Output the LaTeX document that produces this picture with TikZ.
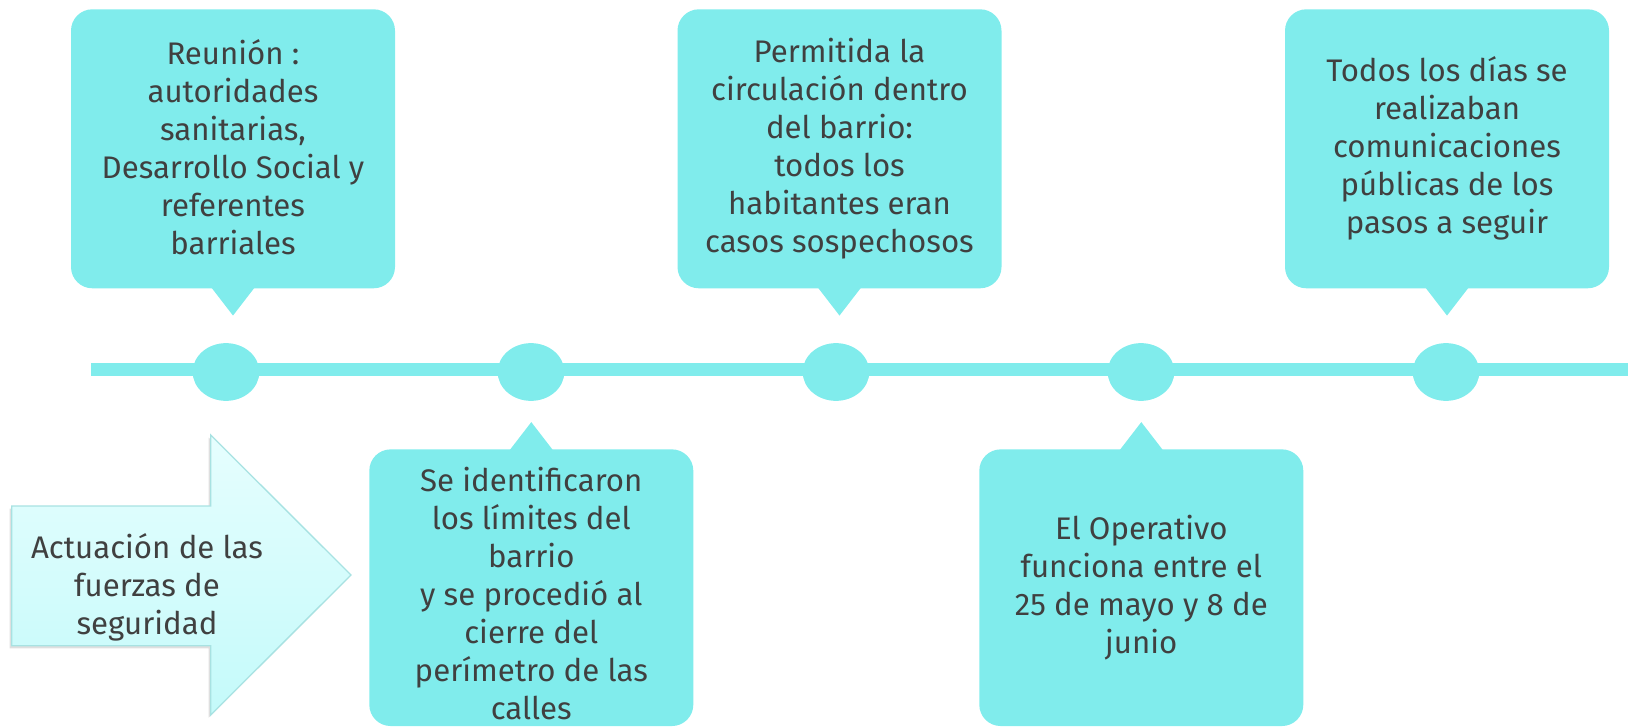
\documentclass[tikz,border=0pt]{standalone}
\usepackage{fontspec}
\setmainfont{Fira Sans}
\usetikzlibrary{shadows,shapes.geometric}
\definecolor{tl}{HTML}{80ECEC}
\definecolor{txtc}{HTML}{404040}
\definecolor{arrtop}{HTML}{E6FEFE}
\definecolor{arrbot}{HTML}{C4FAFA}
\definecolor{arrline}{HTML}{A8E2E2}
\begin{document}
\begin{tikzpicture}[x=0.75pt,y=-0.75pt,
  box/.style={fill=tl, rounded corners=16pt, minimum width=243pt, inner sep=0pt},
  tbox/.style={box, minimum height=209.25pt},
  bbox/.style={box, minimum height=207.5pt},
  dot/.style={ellipse, fill=tl, minimum width=50pt, minimum height=43.3pt, inner sep=0pt},
  txt/.style={text=txtc, align=center, font=\fontsize{23.4pt}{28.5pt}\selectfont, inner sep=0pt},
  ptr/.style={fill=tl}
]
\useasboundingbox (0,0) rectangle (1628,727);

% timeline
\coordinate (ls) at (91,369.5);
\coordinate (le) at (1628,369.5);
\draw[tl, line width=10pt] (ls) -- (le);
\node[dot] (d1) at (226,372) {};
\node[dot] (d2) at (531,372) {};
\node[dot] (d3) at (836,372) {};
\node[dot] (d4) at (1141,372) {};
\node[dot] (d5) at (1446,372) {};

% top callouts
\node[tbox] (b1) at (233,148.8) {};
\node[tbox] (b2) at (839.5,148.8) {};
\node[tbox] (b3) at (1447,148.8) {};
\foreach \b in {b1,b2,b3}{
  \fill[ptr] ([xshift=-16pt,yshift=0.5pt]\b.south) -- ([xshift=16pt,yshift=0.5pt]\b.south) -- ([yshift=-20.25pt]\b.south) -- cycle;
}
% bottom callouts
\node[bbox] (b4) at (531.3,587.7) {};
\node[bbox] (b5) at (1141.3,587.7) {};
\foreach \b in {b4,b5}{
  \fill[ptr] ([xshift=-16pt,yshift=-0.5pt]\b.north) -- ([xshift=16pt,yshift=-0.5pt]\b.north) -- ([yshift=20.25pt]\b.north) -- cycle;
}

\node[txt] (t1) at ([yshift=1pt]b1.center) {Reunión :\\autoridades\\sanitarias,\\Desarrollo Social y\\referentes\\barriales};
\node[txt] (t2) at (b2.center) {Permitida la\\circulación dentro\\del barrio:\\todos los\\habitantes eran\\casos sospechosos};
\node[txt] (t3) at (b3.center) {Todos los días se\\realizaban\\comunicaciones\\públicas de los\\pasos a seguir};
\node[txt] (t4) at ([yshift=-4.5pt]b4.center) {Se identificaron\\los límites del\\barrio\\y se procedió al\\cierre del\\perímetro de las\\calles};
\node[txt] (t5) at (b5.center) {El Operativo\\funciona entre el\\25 de mayo y 8 de\\junio};

% left arrow
\path[draw=arrline, line width=1pt, top color=arrtop, bottom color=arrbot,
  drop shadow={shadow xshift=-1.5pt, shadow yshift=-2pt, opacity=0.25}]
  (11.7,506) -- (210.7,506) -- (210.7,435) -- (351,575) -- (210.7,715) -- (210.7,645.7) -- (11.7,645.7) -- cycle;
\node[txt] (ta) at (147,587) {Actuación de las\\fuerzas de\\seguridad};
\end{tikzpicture}
\end{document}
